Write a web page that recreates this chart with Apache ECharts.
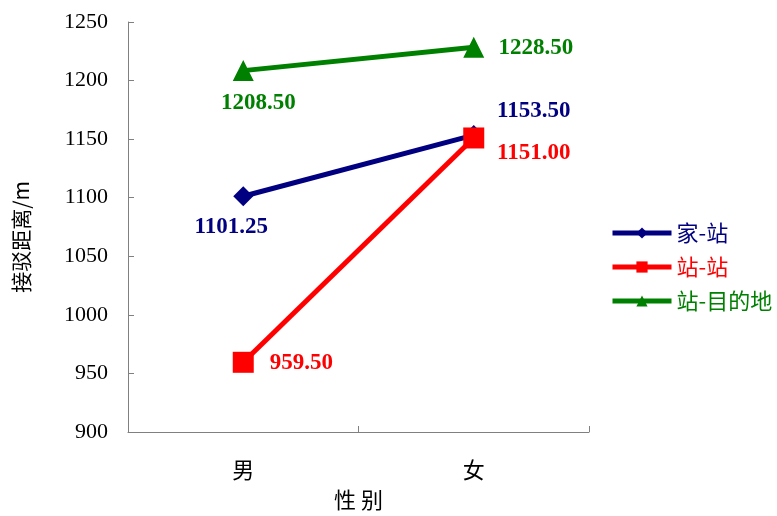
<!DOCTYPE html>
<html>
<head>
<meta charset="utf-8">
<script src="https://cdn.jsdelivr.net/npm/echarts@6/dist/echarts.min.js"></script>
<style>
  html, body { margin: 0; padding: 0; background: #fff; }
  #chart { width: 777px; height: 516px; }
</style>
</head>
<body>
<div id="chart"></div>
<script>
// Categories and series values
const categories = ['男', '女'];
const homeStation = [1101.25, 1153.50];      // 家-站
const stationStation = [959.50, 1151.00];    // 站-站
const stationDest = [1208.50, 1228.50];      // 站-目的地
const yTicks = { min: 900, max: 1250, step: 50 };

const serif = '"Liberation Serif", "Times New Roman", serif';
const sans = '"Noto Sans CJK SC", "Noto Sans", sans-serif';

// per-point label offsets (label centred on the marker, then shifted)
function withLabels(values, color, offsets) {
  return values.map((v, i) => ({
    value: v,
    label: {
      show: true,
      position: 'inside',
      offset: offsets[i],
      formatter: (p) => p.value.toFixed(2),
      color: color,
      fontFamily: serif,
      fontWeight: 'bold',
      fontSize: 23
    }
  }));
}

const chart = echarts.init(document.getElementById('chart'), null, { renderer: 'canvas' });
chart.setOption({
  animation: false,
  backgroundColor: '#ffffff',
  grid: { left: 128, right: 188, top: 22, bottom: 84, containLabel: false },
  legend: {
    orient: 'vertical',
    left: 610,
    top: 222,
    padding: 0,
    itemWidth: 59,
    itemHeight: 14,
    itemGap: 12,
    lineStyle: { width: 5 },
    textStyle: { fontFamily: sans, fontSize: 22 },
    data: [
      { name: '家-站', textStyle: { color: '#000080' } },
      { name: '站-站', textStyle: { color: '#ff0000' } },
      { name: '站-目的地', textStyle: { color: '#008000' } }
    ]
  },
  xAxis: {
    type: 'category',
    data: categories,
    boundaryGap: true,
    name: '性 别',
    nameLocation: 'middle',
    nameGap: 57,
    nameTextStyle: { fontFamily: sans, fontSize: 22, color: '#000' },
    axisLine: { lineStyle: { color: '#808080', width: 1 } },
    axisTick: { show: true, inside: true, length: 6, lineStyle: { color: '#808080' } },
    axisLabel: { fontFamily: sans, fontSize: 22, color: '#000', margin: 27 },
    splitLine: { show: false }
  },
  yAxis: {
    type: 'value',
    min: yTicks.min,
    max: yTicks.max,
    interval: yTicks.step,
    name: '接驳距离/m',
    nameLocation: 'middle',
    nameGap: 96,
    nameRotate: 90,
    nameTextStyle: { fontFamily: sans, fontSize: 21, color: '#000', padding: [0, 20, 0, 0] },
    axisLine: { show: true, lineStyle: { color: '#808080', width: 1 } },
    axisTick: { show: true, inside: true, length: 6, lineStyle: { color: '#808080' } },
    axisLabel: {
      fontFamily: serif, fontSize: 22, color: '#000', margin: 20,
      formatter: (v) => String(v)
    },
    splitLine: { show: false }
  },
  series: [
    {
      name: '家-站',
      type: 'line',
      data: withLabels(homeStation, '#000080', [[-12, 31], [60, -24]]),
      symbol: 'diamond',
      symbolSize: 20,
      lineStyle: { color: '#000080', width: 5 },
      itemStyle: { color: '#000080' },
      z: 2
    },
    {
      name: '站-站',
      type: 'line',
      data: withLabels(stationStation, '#ff0000', [[58, 1], [60, 15]]),
      symbol: 'rect',
      symbolSize: 21,
      lineStyle: { color: '#ff0000', width: 5 },
      itemStyle: { color: '#ff0000' },
      z: 3
    },
    {
      name: '站-目的地',
      type: 'line',
      data: withLabels(stationDest, '#008000', [[15, 32], [62, 1]]),
      symbol: 'triangle',
      symbolSize: 21,
      lineStyle: { color: '#008000', width: 5 },
      itemStyle: { color: '#008000' },
      z: 4
    }
  ]
});
</script>
</body>
</html>
